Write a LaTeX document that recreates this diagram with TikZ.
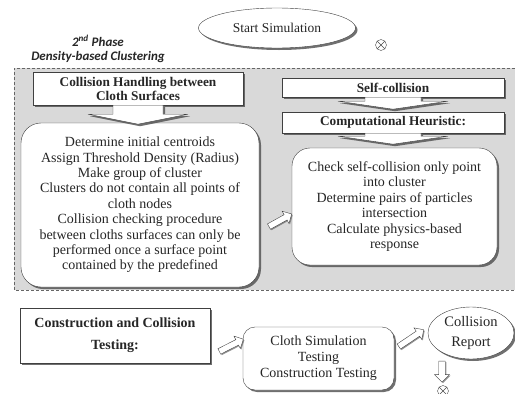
\documentclass[tikz,border=0pt]{standalone}
\usepackage{fontspec}
\setmainfont{Liberation Serif}
\newfontfamily\phasefont{Carlito}
\usetikzlibrary{shapes.geometric,shapes.arrows,shadows}

\tikzset{
  boxshadow/.style={drop shadow={shadow xshift=2pt,shadow yshift=-2pt,fill=black!70,opacity=.8}},
  titlebox/.style={draw=black!75,fill=white,boxshadow,text=black!85,
    font=\fontsize{13.3}{14}\selectfont\bfseries,align=center,inner sep=0pt},
  roundbox/.style={draw=black!75,fill=white,rounded corners=18pt,boxshadow,text=black!85,
    font=\fontsize{14}{15.4}\selectfont,align=center,inner sep=0pt},
  oval/.style={ellipse,draw=black!75,fill=white,boxshadow,text=black!85,inner sep=0pt,align=center},
  fatarrow/.style={draw=black!75,fill=white,boxshadow},
  hollowarrow/.style={single arrow,draw=black!75,fill=white,inner sep=2.5pt,
    single arrow head extend=3.5pt,
    drop shadow={shadow xshift=1pt,shadow yshift=-1pt,fill=black!60,opacity=.7}},
  joint/.style={circle,draw=black!70,minimum size=11pt,inner sep=0pt,
    path picture={\draw[black!70] (path picture bounding box.north west) -- (path picture bounding box.south east)
      (path picture bounding box.south west) -- (path picture bounding box.north east);}}
}

\begin{document}
\begin{tikzpicture}[x=1pt,y=-1pt]
  \useasboundingbox (0,0) rectangle (515,394);

  % phase 2 area
  \fill[black!15] (14,68) rectangle (515,290);
  \draw[black!60,dash pattern=on 3pt off 2pt] (515,68) -- (14,68) -- (14,290) -- (515,290);
  \node[font=\phasefont\bfseries\itshape\fontsize{13}{14}\selectfont,align=center,text=black!85] (phase) at (98,49)
    {2\textsuperscript{nd} Phase\\Density-based Clustering};

  % start
  \node[oval,minimum width=157pt,minimum height=40pt,font=\fontsize{13.5}{15}\selectfont] (start) at (277,28) {Start Simulation};
  \node[joint] (j1) at (381,45) {};

  % left column
  \node[titlebox,minimum width=210pt,minimum height=33pt] (collide) at (138,88.5) {Collision Handling between\\Cloth Surfaces};
  \node[roundbox,rounded corners=20pt,minimum width=238pt,minimum height=164pt] (cluster) at (140,205)
    {Determine initial centroids\\Assign Threshold Density (Radius)\\Make group of cluster\\Clusters do not contain all points of\\cloth nodes\\Collision checking procedure\\between cloths surfaces can only be\\performed once a surface point\\contained by the predefined};
  \draw[fatarrow] ([xshift=-25pt]collide.south) -- ++(0,9) -- ++(-25,0) -- ++(50,10) -- ++(50,-10) -- ++(-25,0) -- ++(0,-9) -- cycle;

  % right column
  \node[titlebox,minimum width=222pt,minimum height=19pt] (self) at (393,87.5) {Self-collision};
  \node[titlebox,minimum width=222pt,minimum height=21pt] (heur) at (393,122.5) {Computational Heuristic:};
  \node[roundbox,minimum width=205pt,minimum height=117pt] (selfsteps) at (394.5,206.5)
    {Check self-collision only point\\into cluster\\Determine pairs of particles\\intersection\\Calculate physics-based\\response};
  \draw[fatarrow] ([xshift=-28pt]self.south) -- ++(0,4) -- ++(-27,0) -- ++(55,8) -- ++(55,-8) -- ++(-27,0) -- ++(0,-4) -- cycle;
  \draw[fatarrow] ([xshift=-28pt]heur.south) -- ++(0,3) -- ++(-27,0) -- ++(55,8) -- ++(55,-8) -- ++(-27,0) -- ++(0,-3) -- cycle;
  \node[hollowarrow,rotate=29,minimum height=26pt,minimum width=14pt] (a1) at (279,221) {};

  % testing
  \node[titlebox,minimum width=190pt,minimum height=55pt,font=\fontsize{14}{22}\selectfont\bfseries] (test) at (115,335.5)
    {Construction and Collision\\Testing:};
  \node[roundbox,rounded corners=12pt,minimum width=151pt,minimum height=63pt,font=\fontsize{14}{16}\selectfont] (cloth) at (318.5,358.5)
    {Cloth Simulation\\Testing\\Construction Testing};
  \node[oval,minimum width=86pt,minimum height=52pt,font=\fontsize{14.5}{20}\selectfont] (report) at (471,333) {Collision\\Report};
  \node[hollowarrow,rotate=27,minimum height=27pt,minimum width=14pt] (a2) at (230,346) {};
  \node[hollowarrow,rotate=34,minimum height=30pt,minimum width=14pt] (a3) at (410,339) {};
  \node[hollowarrow,rotate=-90,minimum height=21pt,minimum width=15pt] (a4) at (442,370) {};
  \node[joint] (j2) at (443,391) {};
\end{tikzpicture}
\end{document}
